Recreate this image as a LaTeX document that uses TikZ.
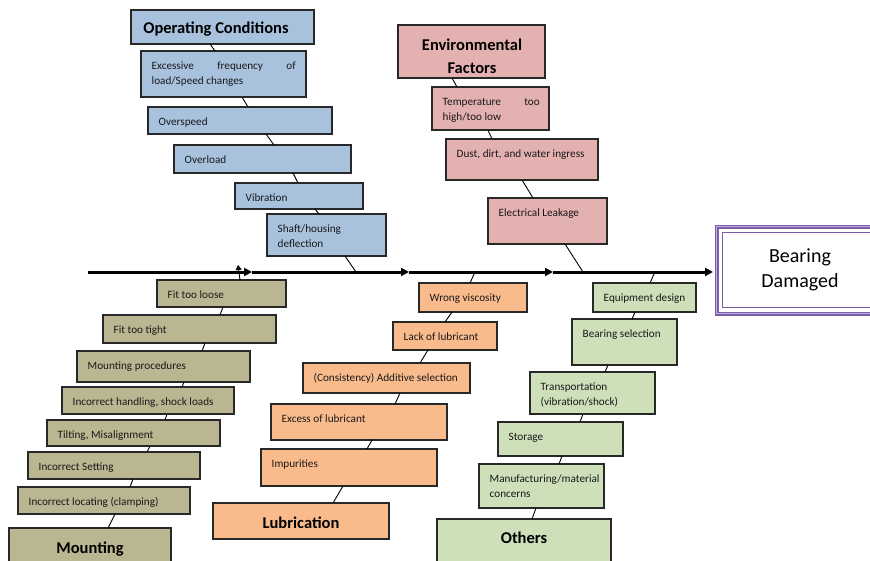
\documentclass[tikz,border=0pt]{standalone}
\usepackage{fontspec}
\setmainfont{Carlito}
\usetikzlibrary{arrows.meta}
\definecolor{ocfill}{RGB}{168,194,222}
\definecolor{envfill}{RGB}{227,177,176}
\definecolor{mntfill}{RGB}{187,182,146}
\definecolor{lubfill}{RGB}{249,187,140}
\definecolor{othfill}{RGB}{205,224,186}
\definecolor{boxline}{RGB}{40,40,40}
\definecolor{bdpurple}{RGB}{122,92,168}
\definecolor{bdlight}{RGB}{190,175,220}
\tikzset{
  box/.style={draw=boxline, line width=1.1pt, inner sep=0pt, outer sep=0pt, anchor=north west},
  ocbox/.style={box, fill=ocfill},
  envbox/.style={box, fill=envfill},
  mntbox/.style={box, fill=mntfill},
  lubbox/.style={box, fill=lubfill},
  othbox/.style={box, fill=othfill},
  txt/.style={inner sep=0pt, anchor=base west, font=\fontsize{11.2}{15.5}\selectfont, text=black!90},
  ttl/.style={inner sep=0pt, anchor=base, align=center, font=\fontsize{16.5}{23}\selectfont\bfseries, text=black},
  conn/.style={draw=black, line width=0.9pt},
  spine/.style={draw=black, line width=3pt, -{Triangle[length=8pt,width=8pt]}},
}
% #1 name, #2 style, #3 x1, #4 y1, #5 x2, #6 y2, #7 text
\newcommand\cbx[7]{%
  \node[#2, minimum width={#5pt-#3pt}, minimum height={#6pt-#4pt}] (#1) at (#3,#4) {};
  \node[txt] (#1t) at ([shift={(10.5pt,-18pt)}]#1.north west) {#7};}
% titled box: #1 name, #2 style, #3 x1, #4 y1, #5 x2, #6 y2, #7 text x, #8 text baseline y (last line), #9 text
\newcommand\tbx[9]{%
  \node[#2, minimum width={#5pt-#3pt}, minimum height={#6pt-#4pt}] (#1) at (#3,#4) {};
  \node[ttl] (#1t) at (#7,#8) {#9};}
\newcommand\twol[2]{\vtop{\baselineskip=15.5pt\hbox{#1}\hbox{#2}}}
\newcommand\conn[4]{\draw[conn] ([xshift=#2pt]#1.south west) -- ([xshift=#4pt]#3.north west);}
\begin{document}
\begin{tikzpicture}[x=1pt,y=-1pt]
\clip (0,0) rectangle (870,560);
\fill[white] (0,0) rectangle (870,560);

% ---------- spine ----------
\coordinate (s0) at (88,272);
\coordinate (a1) at (252,272);
\coordinate (a2) at (409,272);
\coordinate (a3) at (553,272);
\coordinate (a4) at (713,272);
\coordinate (jOC) at (356,272);
\coordinate (jEN) at (583,272);
\coordinate (jLU) at (475,272);
\coordinate (jOT) at (655,272);
\coordinate (jMT) at (238,265);

% ---------- Operating Conditions ----------
\node[ocbox, minimum width=183pt, minimum height=34pt] (oc) at (131,10) {};
\node[ttl] (oct) at (216,33.5) {Operating Conditions};
\cbx{oc1}{ocbox}{141}{51}{306}{97}{\twol{\hbox to 144pt{Excessive\hfill frequency\hfill of}}{load/Speed changes}}
\cbx{oc2}{ocbox}{148}{107}{332}{134}{Overspeed}
\cbx{oc3}{ocbox}{174}{145}{351}{173}{Overload}
\cbx{oc4}{ocbox}{235}{183}{363}{209}{Vibration}
\cbx{oc5}{ocbox}{267}{214}{386}{256}{\twol{Shaft/housing}{deflection}}

% ---------- Environmental Factors ----------
\tbx{en}{envbox}{398}{25}{545}{78}{472}{73}{Environmental\\Factors}
\cbx{en1}{envbox}{432}{87}{549}{130}{\twol{\hbox to 97pt{Temperature\hfill too}}{high/too low}}
\cbx{en2}{envbox}{446}{139}{598}{180}{Dust, dirt, and water ingress}
\cbx{en3}{envbox}{488}{198}{607}{244}{Electrical Leakage}

% ---------- Mounting ----------
\cbx{mt1}{mntbox}{157}{280}{286}{307}{Fit too loose}
\cbx{mt2}{mntbox}{103}{315}{276}{343}{Fit too tight}
\cbx{mt3}{mntbox}{77}{351}{250}{382}{Mounting procedures}
\cbx{mt4}{mntbox}{62}{387}{234}{414}{Incorrect handling, shock loads}
\cbx{mt5}{mntbox}{47}{420}{220}{446}{Tilting, Misalignment}
\cbx{mt6}{mntbox}{28}{452}{200}{479}{Incorrect Setting}
\cbx{mt7}{mntbox}{18}{487}{190}{514}{Incorrect locating (clamping)}
\tbx{mt}{mntbox}{9}{528}{171}{580}{90}{553}{Mounting}

% ---------- Lubrication ----------
\cbx{lu1}{lubbox}{419}{283}{527}{312}{Wrong viscosity}
\cbx{lu2}{lubbox}{393}{322}{497}{350}{Lack of lubricant}
\cbx{lu3}{lubbox}{303}{363}{470}{393}{(Consistency) Additive selection}
\cbx{lu4}{lubbox}{271}{404}{447}{440}{Excess of lubricant}
\cbx{lu5}{lubbox}{261}{449}{437}{486}{Impurities}
\tbx{lu}{lubbox}{213}{503}{389}{539}{301}{528}{Lubrication}

% ---------- Others ----------
\cbx{ot1}{othbox}{593}{283}{696}{312}{Equipment design}
\cbx{ot2}{othbox}{572}{319}{677}{365}{Bearing selection}
\cbx{ot3}{othbox}{530}{372}{655}{414}{\twol{Transportation}{(vibration/shock)}}
\cbx{ot4}{othbox}{498}{422}{623}{456}{Storage}
\cbx{ot5}{othbox}{479}{464}{604}{508}{\twol{Manufacturing/material}{concerns}}
\tbx{ot}{othbox}{437}{519}{611}{580}{524}{543}{Others}

% ---------- Bearing Damaged ----------
\node[draw=bdpurple, line width=1.3pt, double=bdlight, double distance=1.2pt,
      minimum width=170pt, minimum height=87pt, inner sep=0pt, anchor=north west] (bd) at (716,226) {};
\draw[draw=bdpurple, line width=1.3pt] ([shift={(6.5pt,-6.5pt)}]bd.north west) rectangle ([shift={(-6.5pt,6.5pt)}]bd.south east);
\node[inner sep=0pt, anchor=base, align=center, font=\fontsize{20}{25}\selectfont, text=black] (bdt) at (800,287.5) {Bearing\\Damaged};

% ---------- spine ----------
\draw[spine] (s0) -- (a1);
\draw[spine] (a1) -- (a2);
\draw[spine] (a2) -- (a3);
\draw[spine] (a3) -- (a4);

% ---------- connectors ----------
\draw[conn] ([xshift=79pt]oc.south west) -- ([xshift=74pt]oc1.north west);
\conn{oc1}{101}{oc2}{100}
\conn{oc2}{118}{oc3}{100}
\conn{oc3}{119}{oc4}{63}
\conn{oc4}{80}{oc5}{52}
\draw[conn] ([xshift=78pt]oc5.south west) -- (jOC);

\conn{en}{54}{en1}{25}
\conn{en1}{56}{en2}{46}
\conn{en2}{76}{en3}{45}
\draw[conn] ([xshift=77pt]en3.south west) -- (jEN);

\draw[conn, -{Triangle[length=5pt,width=6pt]}] ([xshift=83pt]mt1.north west) -- (jMT);
\conn{mt1}{66}{mt2}{117}
\conn{mt2}{102}{mt3}{125}
\conn{mt3}{107}{mt4}{120}
\conn{mt4}{105}{mt5}{118}
\conn{mt5}{103}{mt6}{119}
\conn{mt6}{105}{mt7}{112}
\conn{mt7}{97}{mt}{99}

\draw[conn] (jLU) -- ([xshift=51pt]lu1.north west);
\conn{lu1}{33}{lu2}{52}
\conn{lu2}{35}{lu3}{117}
\conn{lu3}{97}{lu4}{124}
\conn{lu4}{101}{lu5}{106}
\conn{lu5}{82}{lu}{120}

\draw[conn] (jOT) -- ([xshift=57pt]ot1.north west);
\conn{ot1}{42}{ot2}{60}
\conn{ot2}{36}{ot3}{75}
\conn{ot3}{53}{ot4}{82}
\conn{ot4}{64}{ot5}{80}
\conn{ot5}{57}{ot}{95}
\end{tikzpicture}
\end{document}
